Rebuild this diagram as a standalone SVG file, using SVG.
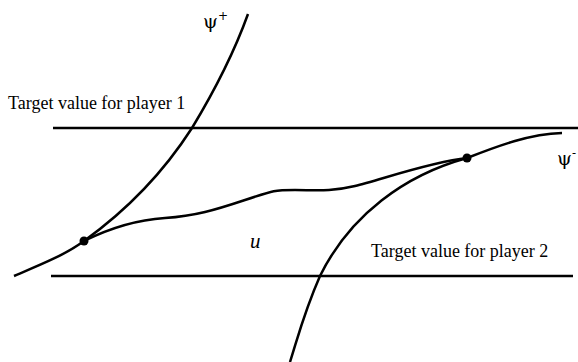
<svg xmlns="http://www.w3.org/2000/svg" width="578" height="362" viewBox="0 0 578 362">
<style>
.ln{fill:none;stroke:#000;stroke-width:2.5;stroke-linecap:butt}
.t{font-family:"Liberation Serif","Times New Roman",serif;font-size:18px;fill:#000}
.u{font-family:"Liberation Serif","Times New Roman",serif;font-size:21px;font-style:italic;fill:#000}
.psi{font-family:"DejaVu Serif","Liberation Serif",serif;font-size:19px;fill:#000}
</style>
<rect width="578" height="362" fill="#fff"/>
<g id="connectors">
<path id="target1" class="ln" d="M 53 128 L 578 128"/>
<path id="target2" class="ln" d="M 51 276 L 573 276"/>
<path id="psi-plus" class="ln" d="M 14 276 C 40 265, 65 255, 84 241 C 130 208, 165 170, 192 128 C 215 90, 235 50, 248 14"/>
<path id="psi-minus" class="ln" d="M 290 362 C 300 330, 305 310, 320 276 C 350 215, 405 175, 467 158 C 500 145, 530 134, 562 133"/>
<path id="u" class="ln" d="M 84 241 C 110 228, 135 220, 165 218 S 215 210, 245 200 S 275 190, 295 190 S 330 192, 355 186 S 430 162, 467 158"/>
</g>
<g id="dot1"><circle cx="84" cy="241" r="4.5"/></g>
<g id="dot2"><circle cx="467" cy="158" r="4.5"/></g>
<g id="labels">
<text class="t" x="8" y="109">Target value for player 1</text>
<text class="t" x="371" y="257">Target value for player 2</text>
<text class="u" x="250" y="248">u</text>
<text class="psi" x="203" y="28">ψ<tspan font-size="12" dy="-8">+</tspan></text>
<text class="psi" x="557" y="165">ψ<tspan font-size="12" dy="-8">-</tspan></text>
</g>
</svg>
